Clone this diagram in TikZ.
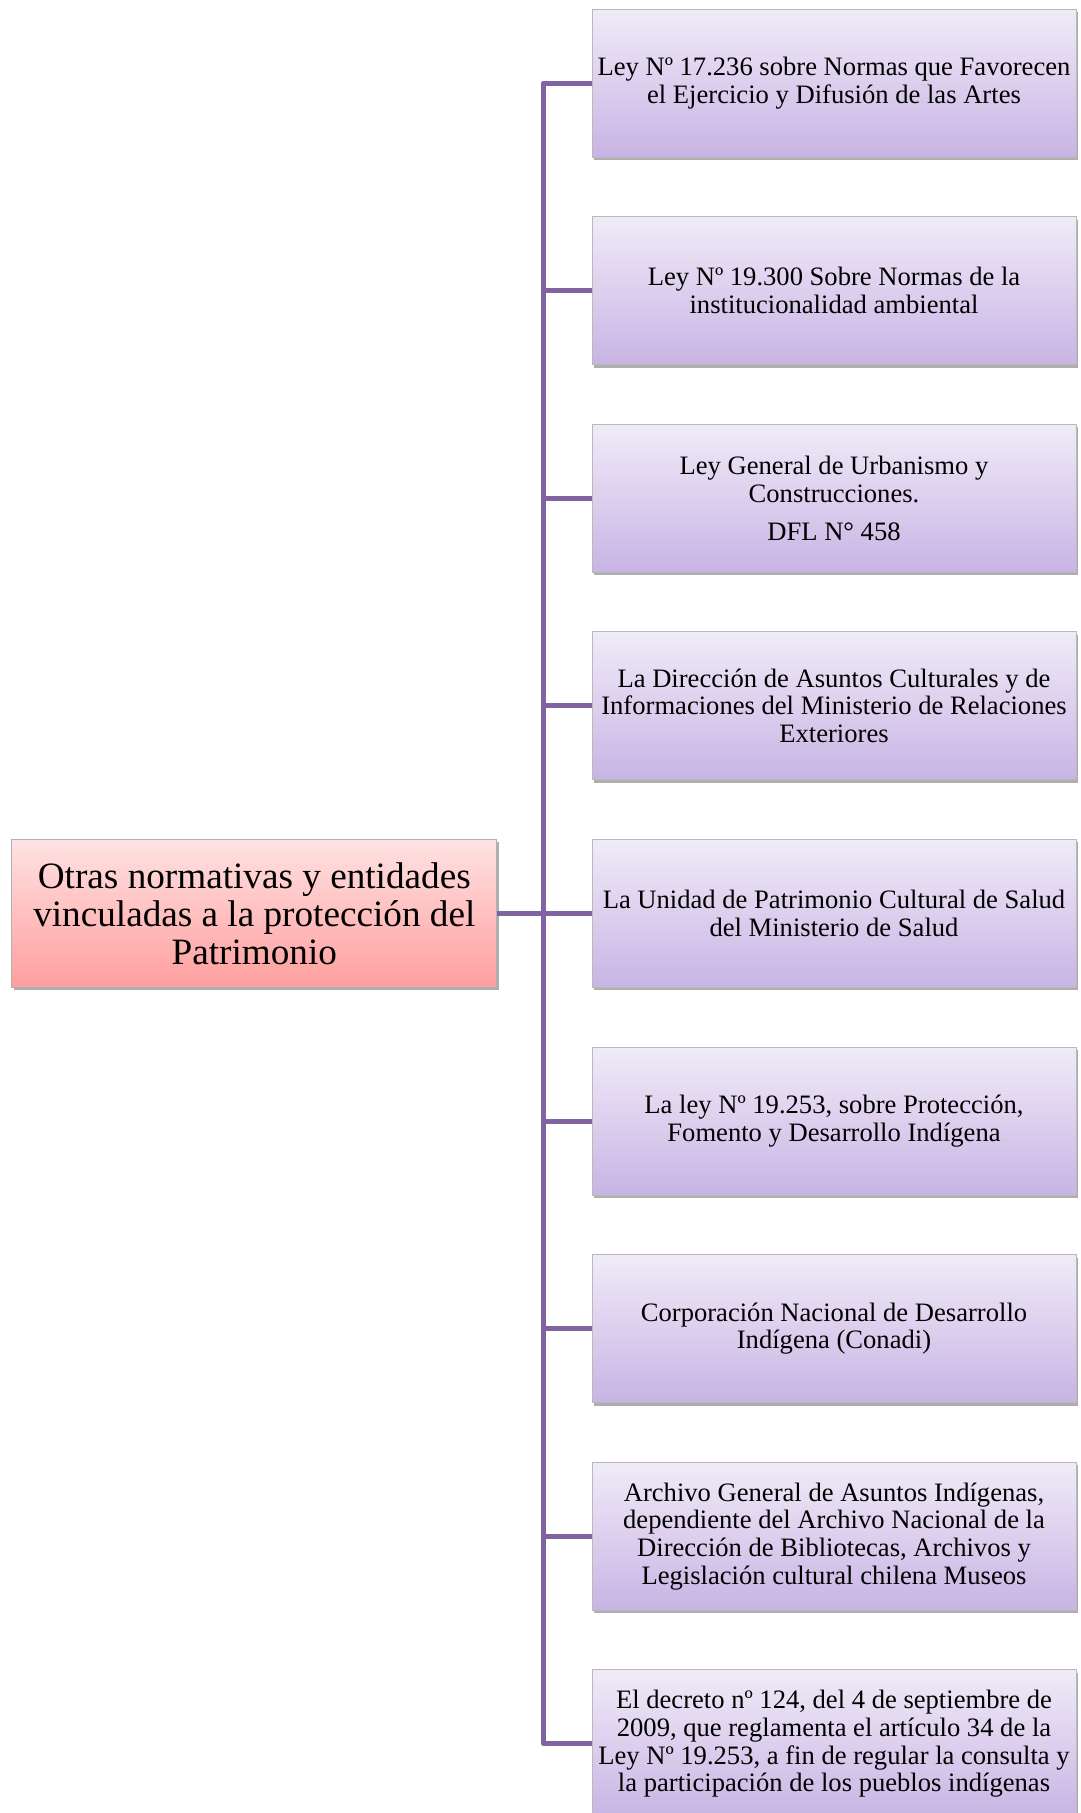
\documentclass[tikz,border=0pt]{standalone}
\usepackage{fontspec}
\setmainfont{Liberation Serif}
\usetikzlibrary{shadows}
\definecolor{linecol}{RGB}{128,100,162}
\definecolor{leaftop}{RGB}{240,235,248}
\definecolor{leafbot}{RGB}{200,180,228}
\definecolor{roottop}{RGB}{255,226,226}
\definecolor{rootbot}{RGB}{255,158,158}
\tikzset{
  leafbox/.style={rectangle, draw=gray!55, line width=0.8pt,
    top color=leaftop, bottom color=leafbot,
    minimum width=484pt, minimum height=148pt,
    align=center, inner sep=0pt,
    font=\fontsize{26.6}{27.7}\selectfont,
    drop shadow={shadow xshift=2pt, shadow yshift=-3pt, opacity=0.45, fill=black!70}},
  rootbox/.style={rectangle, draw=gray!60, line width=0.8pt,
    top color=roottop, bottom color=rootbot,
    minimum width=485pt, minimum height=148pt,
    align=center, inner sep=0pt,
    font=\fontsize{37.2}{38}\selectfont,
    drop shadow={shadow xshift=2pt, shadow yshift=-3pt, opacity=0.45, fill=black!70}},
  conn/.style={draw=linecol, line width=5pt, line join=round, line cap=butt}
}
\begin{document}
\begin{tikzpicture}[x=1pt,y=-1pt]
\useasboundingbox (0,0) rectangle (1080,1813);
\fill[white] (0,0) rectangle (1080,1813);
\coordinate (spine) at (543.5,0);

\node[leafbox] (b1) at (834,83) {Ley Nº 17.236 sobre Normas que Favorecen\\el Ejercicio y Difusión de las Artes};
\node[leafbox] (b2) at (834,290.6) {Ley Nº 19.300 Sobre Normas de la\\institucionalidad ambiental};
\node[leafbox] (b3) at (834,498.2) {Ley General de Urbanismo y\\Construcciones.\\[10pt]DFL N° 458};
\node[leafbox] (b4) at (834,705.8) {La Dirección de Asuntos Culturales y de\\Informaciones del Ministerio de Relaciones\\Exteriores};
\node[leafbox] (b5) at (834,913.4) {La Unidad de Patrimonio Cultural de Salud\\del Ministerio de Salud};
\node[leafbox] (b6) at (834,1121) {La ley Nº 19.253, sobre Protección,\\Fomento y Desarrollo Indígena};
\node[leafbox] (b7) at (834,1328.6) {Corporación Nacional de Desarrollo\\Indígena (Conadi)};
\node[leafbox] (b8) at (834,1536.2) {Archivo General de Asuntos Indígenas,\\dependiente del Archivo Nacional de la\\Dirección de Bibliotecas, Archivos y\\Legislación cultural chilena Museos};
\node[leafbox] (b9) at (834,1743.8) {El decreto nº 124, del 4 de septiembre de\\2009, que reglamenta el artículo 34 de la\\Ley Nº 19.253, a fin de regular la consulta y\\la participación de los pueblos indígenas};

\node[rootbox] (root) at (254.3,913.4) {Otras normativas y entidades\\vinculadas a la protección del\\Patrimonio};

\draw[conn] (b1.west) -- (b1.west -| spine) -- (b9.west -| spine) -- (b9.west);
\foreach \i in {2,...,8} {\draw[conn] (b\i.west) -- (b\i.west -| spine);}
\draw[conn] (root.east) -- (root.east -| spine);
\end{tikzpicture}
\end{document}
